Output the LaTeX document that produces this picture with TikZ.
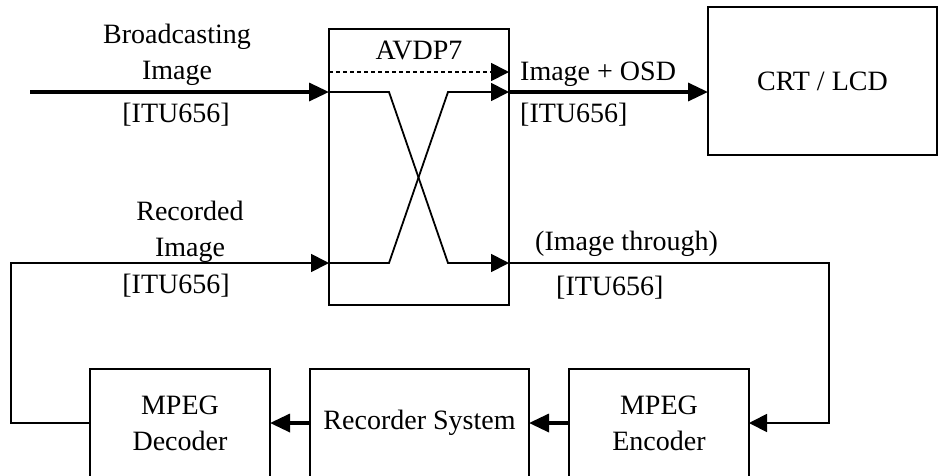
\documentclass[tikz,border=0pt]{standalone}
\usepackage{fontspec}
\setmainfont{Liberation Serif}
\usetikzlibrary{arrows.meta,positioning}

\begin{document}
\begin{tikzpicture}[x=1pt, y=-1pt,
  every node/.style={font=\fontsize{28}{36}\selectfont},
  blockbox/.style={draw, line width=1.8pt, inner sep=0pt, outer sep=0pt, align=center},
  lbl/.style={inner sep=0pt, align=center},
  thinflow/.style={line width=1.8pt, -{Triangle[length=18pt,width=18pt]}},
  thickflow/.style={line width=3.4pt, -{Triangle[length=20pt,width=18pt]}}]
  \clip (0,0) rectangle (938,475);

  % Switch block
  \node[blockbox, minimum width=180pt, minimum height=276pt] (avdp) at (419,167) {};
  \node[lbl, anchor=base] (avdpname) at (419,59) {AVDP7};
  \coordinate (dotin) at (329,72);
  \coordinate (dotout) at (509,72);
  \coordinate (inA) at (329,92);
  \coordinate (inB) at (329,263);
  \coordinate (outA) at (509,92);
  \coordinate (outB) at (509,263);
  \coordinate (bendA) at (389,92);
  \coordinate (bendB) at (389,263);
  \coordinate (bendC) at (448,92);
  \coordinate (bendD) at (448,263);

  \draw[thinflow, dashed, dash pattern=on 4pt off 3pt] (dotin) -- (dotout);
  \draw[thinflow] (inA) -- (bendA) -- (bendD) -- (outB);
  \draw[thinflow] (inB) -- (bendB) -- (bendC) -- (outA);

  % Display
  \node[blockbox, minimum width=229pt, minimum height=148pt] (crt) at (822.5,81) {CRT / LCD};

  % Recording chain
  \node[blockbox, minimum width=180pt, minimum height=108pt] (dec) at (180,423) {MPEG\\Decoder};
  \node[blockbox, minimum width=219pt, minimum height=108pt] (rec) at (419.5,423) {Recorder System};
  \node[blockbox, minimum width=180pt, minimum height=108pt] (enc) at (659,423) {MPEG\\Encoder};

  % Broadcasting input
  \coordinate (bcsrc) at (30,92);
  \draw[thickflow] (bcsrc) -- (inA);
  \node[lbl, anchor=north] (bcname) at (177,24) {Broadcasting\\Image};
  \node[lbl, anchor=base] (bcitu) at (176,122) {[ITU656]};

  % Output to display
  \draw[thickflow] (outA) -- (outA -| crt.west);
  \node[lbl, anchor=base west] (osdname) at (520,80) {Image + OSD};
  \node[lbl, anchor=base west] (osditu) at (520,122) {[ITU656]};

  % Through output to encoder
  \coordinate (loopR) at (829,263);
  \draw[thinflow] (outB) -- (loopR) |- (enc.east);
  \node[lbl, anchor=base west] (thruname) at (535,250) {(Image through)};
  \node[lbl, anchor=base west] (thruitu) at (556,295) {[ITU656]};

  % Chain arrows
  \draw[thickflow] (enc.west) -- (rec.east);
  \draw[thickflow] (rec.west) -- (dec.east);

  % Recorded input
  \coordinate (loopL) at (11,263);
  \draw[thinflow] (dec.west) -| (loopL) -- (inB);
  \node[lbl, anchor=north] (recname) at (190,201) {Recorded\\Image};
  \node[lbl, anchor=base] (recitu) at (176,293) {[ITU656]};
\end{tikzpicture}
\end{document}
